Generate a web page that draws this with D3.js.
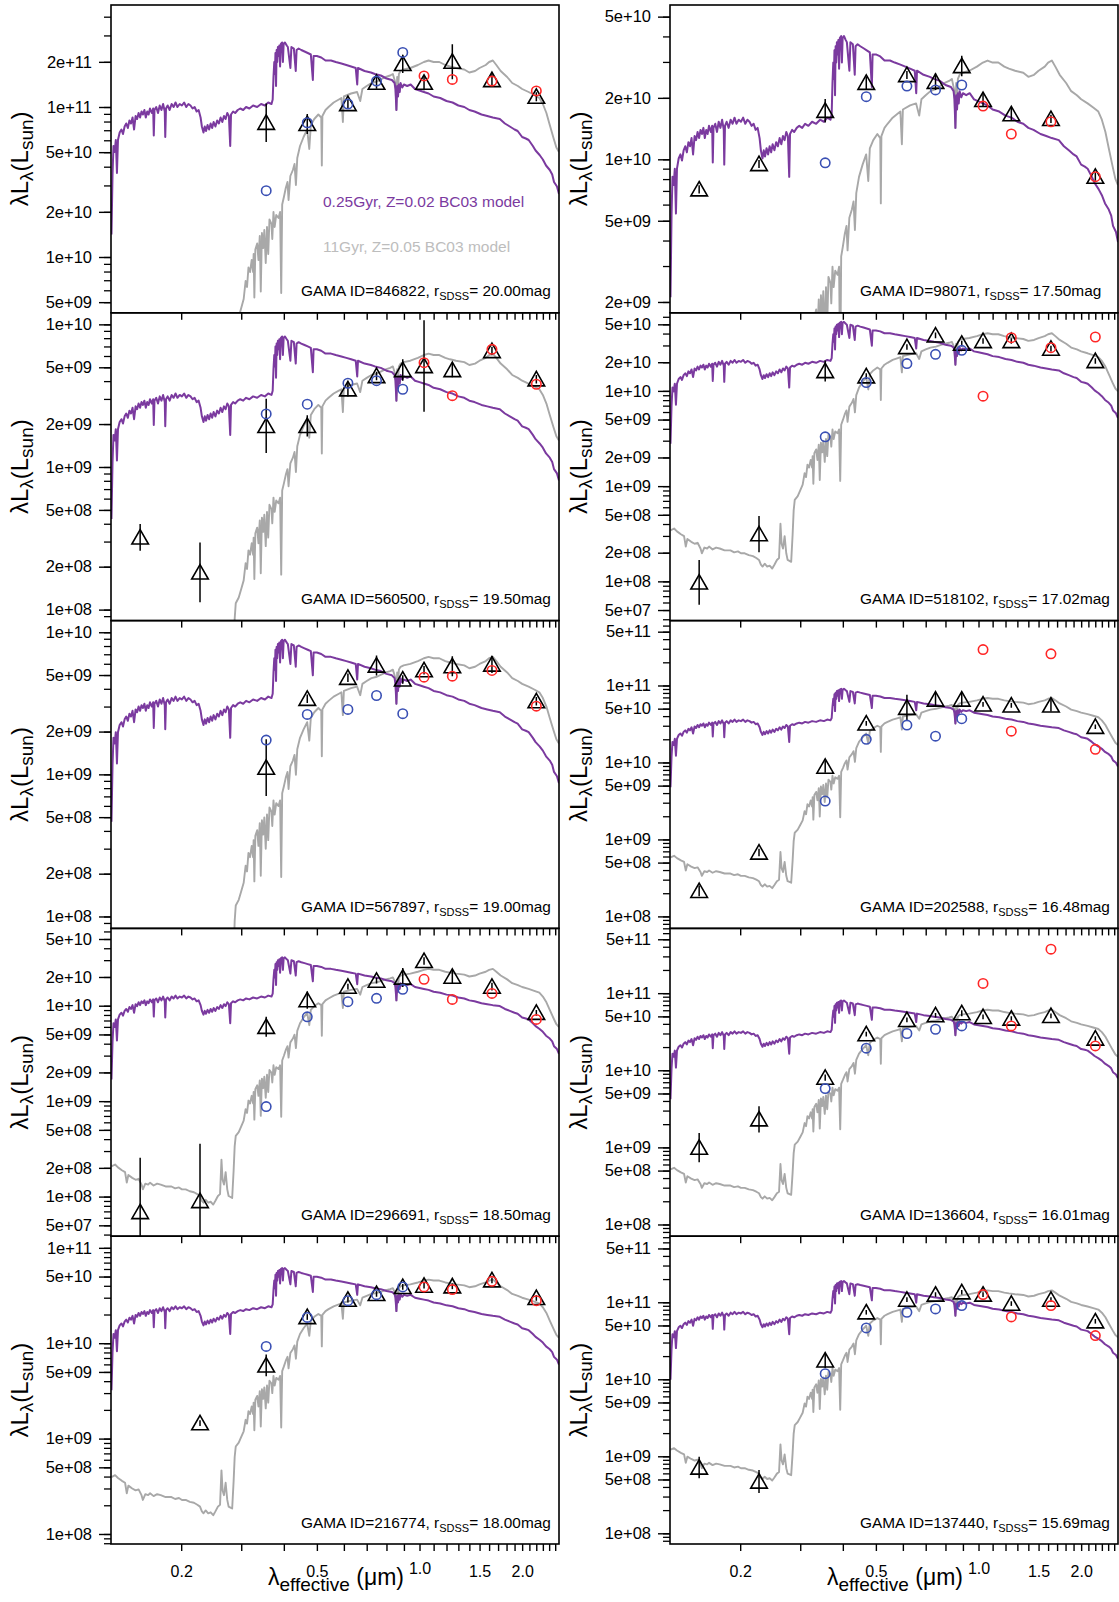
<!DOCTYPE html>
<html><head><meta charset="utf-8">
<script src="https://cdn.jsdelivr.net/npm/d3@7"></script>
<style>
body{margin:0;background:#fff}
svg{display:block}
text{font-family:"Liberation Sans",Arial,Helvetica,sans-serif;fill:#000}
</style>
</head><body>
<svg id="chart" width="1119" height="1602"></svg>
<script>
// ---------------- DATA ----------------
// photometric bands and their effective wavelengths (micron)
const bands = ["FUV","NUV","u","g","r","i","z","Y","J","H","K"];
const bandWavelength = [0.1516,0.2271,0.3551,0.4686,0.6166,0.748,0.893,1.031,1.248,1.631,2.201];
const sdssBands = [2,3,4,5,6];      // indices of u g r i z  (blue circles)
const ukidssBands = [7,8,9,10];     // indices of Y J H K    (red circles)

// panels (left-to-right, top-to-bottom)
const galaxyIds = ["846822","98071","560500","518102","567897","202588","296691","136604","216774","137440"];
const rMag = ["20.00","17.50","19.50","17.02","19.00","16.48","18.50","16.01","18.00","15.69"];

// y-axis ranges, log10(lambda L_lambda / L_sun)
const yRangeLog = [[9.628,11.68],[9.248,10.756],[7.923,10.081],[7.588,10.82],[7.916,10.082],
                   [7.844,11.843],[7.585,10.81],[7.848,11.84],[7.895,11.122],[7.861,11.858]];
// labelled y ticks
const yTickLabels = [
  [5e9,1e10,2e10,5e10,1e11,2e11],
  [2e9,5e9,1e10,2e10,5e10],
  [1e8,2e8,5e8,1e9,2e9,5e9,1e10],
  [5e7,1e8,2e8,5e8,1e9,2e9,5e9,1e10,2e10,5e10],
  [1e8,2e8,5e8,1e9,2e9,5e9,1e10],
  [1e8,5e8,1e9,5e9,1e10,5e10,1e11,5e11],
  [5e7,1e8,2e8,5e8,1e9,2e9,5e9,1e10,2e10,5e10],
  [1e8,5e8,1e9,5e9,1e10,5e10,1e11,5e11],
  [1e8,5e8,1e9,5e9,1e10,5e10,1e11],
  [1e8,5e8,1e9,5e9,1e10,5e10,1e11,5e11]
];
// x axis
const xDomain = [0.1245, 2.565];
const xTicks = [0.2,0.3,0.4,0.5,0.6,0.7,0.8,0.9,1.0,1.1,1.2,1.3,1.4,1.5,1.6,1.7,1.8,1.9,2.0,2.1,2.2,2.3,2.4,2.5];
const xTickLabels = {0.2:"0.2",0.5:"0.5",1.0:"1.0",1.5:"1.5",2.0:"2.0"};

// GAMA photometry (triangles), log10 values, null = not measured
const gamaLog = [
  [null,null,10.895,10.887,11.02,11.162,11.287,11.162,11.302,11.18,11.069],
  [9.853,9.977,10.238,10.375,10.413,10.38,10.457,10.291,10.221,10.198,9.915],
  [8.506,8.261,9.288,9.288,9.545,9.638,9.68,9.708,9.68,9.813,9.615],
  [7.989,8.496,10.209,10.154,10.461,10.583,10.496,10.524,10.524,10.444,10.314],
  [null,null,9.047,9.532,9.68,9.766,9.668,9.733,9.761,9.773,9.515],
  [8.332,8.83,9.946,10.507,10.711,10.818,10.818,10.754,10.741,10.741,10.464],
  [7.838,7.954,9.779,10.059,10.2,10.263,10.295,10.469,10.305,10.2,9.926],
  [8.996,9.364,9.905,10.468,10.653,10.714,10.74,10.692,10.671,10.705,10.412],
  [null,9.162,9.767,10.275,10.457,10.517,10.59,10.604,10.597,10.66,10.475],
  [8.854,8.672,10.246,10.87,11.035,11.1,11.13,11.1,10.983,11.035,10.753]
];
// error bar half-widths (dex)
const gamaErrDex = [
  [0,0,0.128,0.067,0.03,0.04,0.061,0.05,0.117,0.04,0.03],
  [0.02,0.02,0.058,0.03,0.02,0.04,0.05,0.03,0.03,0.02,0.02],
  [0.094,0.21,0.19,0.075,0.05,0.03,0.076,0.32,0.05,0.03,0.03],
  [0.235,0.19,0.11,0.03,0.03,0.03,0.03,0.03,0.03,0.03,0.03],
  [0,0,0.2,0.03,0.03,0.07,0.03,0.03,0.07,0.06,0.03],
  [0.07,0.05,0.08,0.03,0.17,0.09,0.09,0.03,0.03,0.08,0.03],
  [0.57,0.6,0.105,0.09,0.03,0.03,0.1,0.04,0.07,0.04,0.03],
  [0.19,0.17,0.04,0.03,0.03,0.03,0.04,0.03,0.03,0.03,0.03],
  [0,0.03,0.114,0.03,0.03,0.03,0.03,0.03,0.03,0.03,0.03],
  [0.14,0.15,0.1,0.03,0.03,0.03,0.03,0.03,0.03,0.03,0.03]
];
// SDSS u g r i z (blue circles), log10
const sdssLog = [
  [10.442,10.895,11.02,11.173,11.364],
  [9.983,10.307,10.359,10.34,10.364],
  [9.372,9.44,9.587,9.605,9.545],
  [9.518,10.088,10.287,10.384,10.426],
  [9.241,9.422,9.457,9.555,9.427],
  [9.499,10.3,10.485,10.342,10.568],
  [8.943,9.884,10.042,10.077,10.172],
  [9.762,10.286,10.477,10.532,10.575],
  [9.966,10.27,10.446,10.509,10.59],
  [10.073,10.667,10.87,10.914,10.957]
];
// UKIDSS Y J H K (red circles), log10
const ukidssLog = [
  [11.207,11.184,11.173,11.107],
  [10.261,10.124,10.184,9.915],
  [9.731,9.5,9.825,9.58],
  [9.945,10.559,10.454,10.566],
  [9.684,9.691,9.731,9.48],
  [11.467,10.407,11.411,10.17],
  [10.277,10.066,10.129,9.856],
  [11.126,10.575,11.571,10.316],
  [10.59,10.562,10.649,10.446],
  [11.1,10.81,10.957,10.567]
];
// model normalisation of each panel (dex, relative to the template below)
const modelOffsetDex = [0,-0.826,-1.515,-0.705,-1.483,-0.473,-0.924,-0.525,-0.643,-0.155];

// BC03 0.25 Gyr, Z=0.02 spectrum: [lambda (micron), log10 lambdaL]
const youngModel = [[0.1249,10.15],[0.1258,10.55],[0.1266,10.74],[0.1276,10.70],[0.1286,10.78],[0.1296,10.56],[0.1305,10.78],[0.1320,10.83],[0.1336,10.85],[0.1350,10.82],[0.1365,10.87],[0.1380,10.89],[0.1395,10.86],[0.1410,10.91],[0.1425,10.89],[0.1440,10.93],[0.1455,10.85],[0.1470,10.94],[0.1485,10.92],[0.1500,10.96],[0.1515,10.93],[0.1530,10.97],[0.1545,10.95],[0.1560,10.98],[0.1575,10.93],[0.1590,10.97],[0.1605,10.95],[0.1620,10.99],[0.1640,10.96],[0.1655,10.99],[0.1662,10.81],[0.1670,10.98],[0.1690,11.00],[0.1710,10.96],[0.1730,11.01],[0.1750,10.98],[0.1770,11.02],[0.1790,10.97],[0.1796,10.80],[0.1805,10.99],[0.1825,11.01],[0.1850,10.98],[0.1875,11.02],[0.1900,11.00],[0.1925,11.03],[0.1950,11.00],[0.1980,11.02],[0.2010,11.01],[0.2040,11.03],[0.2070,11.00],[0.2100,11.02],[0.2130,11.01],[0.2160,10.99],[0.2190,11.00],[0.2220,10.97],[0.2250,10.98],[0.2280,10.93],[0.2300,10.87],[0.2325,10.83],[0.2345,10.87],[0.2365,10.84],[0.2390,10.88],[0.2415,10.85],[0.2440,10.89],[0.2465,10.86],[0.2490,10.90],[0.2520,10.87],[0.2550,10.91],[0.2580,10.89],[0.2610,10.93],[0.2640,10.90],[0.2670,10.94],[0.2700,10.92],[0.2730,10.96],[0.2760,10.94],[0.2785,10.74],[0.2800,10.95],[0.2840,10.97],[0.2880,10.96],[0.2930,10.98],[0.2980,10.99],[0.3040,10.98],[0.3100,11.00],[0.3170,10.99],[0.3250,11.01],[0.3340,11.00],[0.3430,11.02],[0.3520,11.01],[0.3600,11.03],[0.3680,11.02],[0.3710,11.05],[0.3730,11.20],[0.3750,11.30],[0.3765,11.22],[0.3780,11.36],[0.3795,11.14],[0.3810,11.38],[0.3825,11.30],[0.3843,11.40],[0.3860,11.34],[0.3880,11.41],[0.3900,11.27],[0.3920,11.42],[0.3956,11.43],[0.3975,11.30],[0.3995,11.42],[0.4030,11.43],[0.4080,11.41],[0.4110,11.40],[0.4181,11.26],[0.4210,11.40],[0.4280,11.39],[0.4335,11.24],[0.4360,11.38],[0.4420,11.39],[0.4500,11.38],[0.4600,11.37],[0.4700,11.36],[0.4800,11.35],[0.4866,11.18],[0.4890,11.34],[0.5000,11.34],[0.5150,11.33],[0.5300,11.31],[0.5500,11.31],[0.5680,11.30],[0.5900,11.29],[0.6100,11.28],[0.6300,11.27],[0.6500,11.26],[0.6566,11.15],[0.6600,11.26],[0.6900,11.24],[0.7200,11.23],[0.7400,11.22],[0.7700,11.21],[0.8000,11.19],[0.8300,11.18],[0.8450,11.16],[0.8500,11.12],[0.8555,10.98],[0.8600,11.14],[0.8650,11.07],[0.8700,11.15],[0.8750,11.10],[0.8800,11.16],[0.8900,11.13],[0.9000,11.15],[0.9200,11.14],[0.9420,11.15],[0.9700,11.12],[1.0000,11.11],[1.0300,11.10],[1.0630,11.09],[1.1000,11.07],[1.1500,11.06],[1.2000,11.04],[1.2500,11.03],[1.3000,11.01],[1.3530,11.00],[1.4000,10.98],[1.4500,10.97],[1.5200,10.95],[1.5800,10.94],[1.6400,10.93],[1.7200,10.92],[1.7800,10.89],[1.8400,10.87],[1.9000,10.85],[1.9400,10.84],[2.0000,10.80],[2.0500,10.79],[2.0900,10.78],[2.1500,10.74],[2.1900,10.71],[2.2500,10.68],[2.3000,10.65],[2.3500,10.61],[2.4100,10.58],[2.4500,10.55],[2.4800,10.50],[2.5300,10.47],[2.5650,10.42]];

// BC03 11 Gyr, Z=0.05 spectrum: [lambda (micron), log10 lambdaL]
const oldModel = [[0.1249,9.24],[0.1280,9.26],[0.1305,9.23],[0.1340,9.20],[0.1369,9.18],[0.1385,9.07],[0.1400,9.15],[0.1437,9.12],[0.1470,9.10],[0.1500,9.11],[0.1530,9.05],[0.1544,9.00],[0.1570,9.06],[0.1600,9.05],[0.1621,9.07],[0.1660,9.04],[0.1700,9.06],[0.1742,9.05],[0.1800,9.03],[0.1873,9.03],[0.1920,9.01],[0.1970,9.02],[0.2010,9.00],[0.2062,9.00],[0.2120,8.98],[0.2180,8.97],[0.2230,8.95],[0.2271,8.93],[0.2300,8.88],[0.2326,8.86],[0.2360,8.89],[0.2400,8.86],[0.2440,8.87],[0.2483,8.84],[0.2520,8.88],[0.2563,8.93],[0.2600,8.95],[0.2625,9.31],[0.2645,9.10],[0.2670,9.05],[0.2700,9.18],[0.2730,9.00],[0.2755,8.93],[0.2790,8.92],[0.2822,8.91],[0.2850,9.20],[0.2870,9.45],[0.2891,9.56],[0.2950,9.60],[0.3000,9.66],[0.3050,9.72],[0.3090,9.84],[0.3120,9.80],[0.3150,9.93],[0.3184,9.90],[0.3220,9.98],[0.3250,9.90],[0.3262,10.02],[0.3278,9.73],[0.3300,10.05],[0.3341,10.09],[0.3370,9.98],[0.3400,10.14],[0.3423,9.77],[0.3450,10.16],[0.3480,10.06],[0.3506,10.18],[0.3540,9.96],[0.3570,10.20],[0.3600,10.02],[0.3630,10.25],[0.3679,10.22],[0.3700,10.12],[0.3730,10.30],[0.3760,10.20],[0.3800,10.28],[0.3860,10.26],[0.3900,10.30],[0.3930,9.76],[0.3956,10.35],[0.4002,10.40],[0.4053,10.46],[0.4100,10.50],[0.4130,10.38],[0.4180,10.54],[0.4252,10.58],[0.4300,10.62],[0.4340,10.48],[0.4380,10.66],[0.4462,10.74],[0.4571,10.80],[0.4683,10.85],[0.4750,10.72],[0.4800,10.88],[0.4913,10.92],[0.5050,10.95],[0.5150,10.93],[0.5170,10.61],[0.5190,10.94],[0.5300,10.98],[0.5411,11.00],[0.5600,11.03],[0.5800,11.05],[0.5900,11.06],[0.5960,10.90],[0.6000,11.07],[0.6300,11.09],[0.6560,11.10],[0.6700,11.04],[0.6800,11.12],[0.7000,11.14],[0.7228,11.16],[0.7500,11.17],[0.7800,11.19],[0.7962,11.20],[0.8200,11.21],[0.8353,11.22],[0.8500,11.16],[0.8555,10.98],[0.8600,11.20],[0.8650,11.12],[0.8700,11.22],[0.8800,11.24],[0.8982,11.25],[0.9400,11.26],[0.9890,11.28],[1.0300,11.30],[1.0630,11.31],[1.1000,11.30],[1.1430,11.30],[1.1900,11.28],[1.2280,11.27],[1.2800,11.26],[1.3530,11.25],[1.4000,11.23],[1.4550,11.24],[1.5000,11.26],[1.5640,11.28],[1.6000,11.30],[1.6410,11.31],[1.6800,11.28],[1.7300,11.24],[1.8070,11.20],[1.8700,11.16],[1.9430,11.14],[2.0000,11.12],[2.0890,11.10],[2.1700,11.08],[2.2460,11.06],[2.3000,11.02],[2.3560,10.96],[2.4100,10.88],[2.4740,10.79],[2.5200,10.73],[2.5650,10.70]];

const legendYoung = "0.25Gyr, Z=0.02 BC03 model";
const legendOld = "11Gyr, Z=0.05 BC03 model";

// ---------------- STYLE / LAYOUT ----------------
const colPurple = "#7b3a9f", colGray = "#a8a8a8", colBlue = "#3a50b4", colRed = "#ff2626";
const colLeft = [111, 670], plotW = 448;
const top0 = 5, rowH = 307.8;

const svg = d3.select("#chart");
const defs = svg.append("defs");

function fmtE(v){
  const e = Math.floor(Math.log10(v) + 1e-9);
  const m = Math.round(v / Math.pow(10, e));
  return m + "e" + (e >= 0 ? "+" : "-") + String(Math.abs(e)).padStart(2, "0");
}
const triPath = "M0,-7.8L8.3,6.6L-8.3,6.6Z";

galaxyIds.forEach((gid, i) => {
  const col = i % 2, row = Math.floor(i / 2);
  const left = colLeft[col], right = left + plotW;
  const top = top0 + row * rowH, bottom = top + rowH;
  const x = d3.scaleLog().domain(xDomain).range([left, right]);
  const [lo, hi] = yRangeLog[i];
  const y = d3.scaleLog().domain([Math.pow(10, lo), Math.pow(10, hi)]).range([bottom, top]);
  const off = modelOffsetDex[i];

  defs.append("clipPath").attr("id", "clip" + i)
    .append("rect").attr("x", left).attr("y", top).attr("width", plotW).attr("height", rowH);

  const g = svg.append("g");
  const gc = g.append("g").attr("clip-path", `url(#clip${i})`);

  const line = d3.line()
    .x(d => x(d[0]))
    .y(d => y(Math.pow(10, d[1] + off)));

  gc.append("path").datum(oldModel).attr("d", line)
    .attr("fill", "none").attr("stroke", colGray).attr("stroke-width", 1.9).attr("stroke-linejoin", "round");
  gc.append("path").datum(youngModel).attr("d", line)
    .attr("fill", "none").attr("stroke", colPurple).attr("stroke-width", 2).attr("stroke-linejoin", "round");

  // GAMA points
  const gpts = gamaLog[i].map((v, k) => ({w: bandWavelength[k], v, e: gamaErrDex[i][k]})).filter(d => d.v !== null);
  gc.selectAll(".err").data(gpts).join("line")
    .attr("x1", d => x(d.w)).attr("x2", d => x(d.w))
    .attr("y1", d => y(Math.pow(10, d.v - d.e))).attr("y2", d => y(Math.pow(10, d.v + d.e)))
    .attr("stroke", "#000").attr("stroke-width", 1.5);
  gc.selectAll(".tri").data(gpts).join("path")
    .attr("d", triPath)
    .attr("transform", d => `translate(${x(d.w)},${y(Math.pow(10, d.v))})`)
    .attr("fill", "none").attr("stroke", "#000").attr("stroke-width", 1.6);

  // SDSS circles
  const spts = sdssLog[i].map((v, k) => ({w: bandWavelength[sdssBands[k]], v}));
  gc.selectAll(".sd").data(spts).join("circle")
    .attr("cx", d => x(d.w)).attr("cy", d => y(Math.pow(10, d.v))).attr("r", 4.7)
    .attr("fill", "none").attr("stroke", colBlue).attr("stroke-width", 1.6);
  // UKIDSS circles
  const upts = ukidssLog[i].map((v, k) => ({w: bandWavelength[ukidssBands[k]], v}));
  gc.selectAll(".uk").data(upts).join("circle")
    .attr("cx", d => x(d.w)).attr("cy", d => y(Math.pow(10, d.v))).attr("r", 4.7)
    .attr("fill", "none").attr("stroke", colRed).attr("stroke-width", 1.6);

  // x axis (ticks outward)
  const xa = d3.axisBottom(x).tickValues(xTicks).tickSize(7)
    .tickFormat(d => (row === 4 && xTickLabels[d.toFixed(1)*1] !== undefined) ? xTickLabels[d.toFixed(1)*1] : "");
  const xg = g.append("g").attr("transform", `translate(0,${bottom})`).call(xa);
  xg.select(".domain").remove();
  xg.selectAll(".tick line").attr("stroke", "#000").attr("stroke-width", 1.4);
  xg.selectAll(".tick text").attr("font-size", 16).attr("y", 0).attr("dy", 0)
    .attr("transform", d => `translate(0,${Math.abs(d - 1) < 1e-6 ? 30 : 33})`)
    .attr("font-family", '"Liberation Sans",Arial,sans-serif');

  // y axis minor ticks
  const minor = [];
  for (let e = Math.floor(lo); e <= Math.ceil(hi); e++)
    for (let k = 1; k <= 9; k++) {
      const lv = Math.log10(k) + e;
      if (lv >= lo && lv <= hi) minor.push(k * Math.pow(10, e));
    }
  const ym = g.append("g").attr("transform", `translate(${left},0)`)
    .call(d3.axisLeft(y).tickValues(minor).tickSize(7).tickFormat(""));
  ym.select(".domain").remove();
  ym.selectAll(".tick line").attr("stroke", "#000").attr("stroke-width", 1.3);
  const yl = g.append("g").attr("transform", `translate(${left},0)`)
    .call(d3.axisLeft(y).tickValues(yTickLabels[i]).tickSize(12).tickPadding(7).tickFormat(fmtE));
  yl.select(".domain").remove();
  yl.selectAll(".tick line").attr("stroke", "#000").attr("stroke-width", 1.4);
  yl.selectAll(".tick text").attr("font-size", 16.5).attr("font-family", '"Liberation Sans",Arial,sans-serif');

  // box
  g.append("rect").attr("x", left).attr("y", top).attr("width", plotW).attr("height", rowH)
    .attr("fill", "none").attr("stroke", "#000").attr("stroke-width", 1.6);

  // y title
  const yt = g.append("text")
    .attr("transform", `translate(${left - 83},${(top + bottom) / 2}) rotate(-90)`)
    .attr("text-anchor", "middle").attr("font-size", 24);
  yt.append("tspan").text("λL");
  yt.append("tspan").attr("font-size", 19).attr("dy", 5).text("λ");
  yt.append("tspan").attr("dy", -5).text("(L");
  yt.append("tspan").attr("font-size", 19).attr("dy", 5).text("sun");
  yt.append("tspan").attr("dy", -5).text(")");

  // ID text
  const it = g.append("text").attr("x", left + 190).attr("y", bottom - 16.5).attr("font-size", 15.4);
  it.append("tspan").text(`GAMA ID=${gid}, r`);
  it.append("tspan").attr("font-size", 11).attr("dy", 4).text("SDSS");
  it.append("tspan").attr("dy", -4).text(`= ${rMag[i]}mag`);

  if (i === 0) {
    g.append("text").attr("x", left + 212).attr("y", top + 202).attr("font-size", 15.5)
      .style("fill", colPurple).text(legendYoung);
    g.append("text").attr("x", left + 212).attr("y", top + 246.5).attr("font-size", 15.5)
      .style("fill", "#bdbdbd").text(legendOld);
  }

  if (row === 4) {
    const xt = g.append("text").attr("x", (left + right) / 2 + 1).attr("y", 1585)
      .attr("text-anchor", "middle").attr("font-size", 23);
    xt.append("tspan").text("λ");
    xt.append("tspan").attr("font-size", 19).attr("dy", 6).text("effective");
    xt.append("tspan").attr("dy", -6).text(" (μm)");
  }
});
</script>
</body></html>
